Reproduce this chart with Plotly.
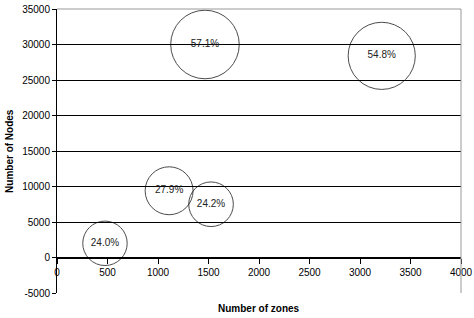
import plotly.graph_objects as go

zones = [475, 1110, 1525, 1465, 3215]
nodes = [2000, 9400, 7500, 30000, 28400]
percent = [24.0, 27.9, 24.2, 57.1, 54.8]
labels = [f"{p:.1f}%" for p in percent]

x_ticks = [0, 500, 1000, 1500, 2000, 2500, 3000, 3500, 4000]
y_ticks = [-5000, 0, 5000, 10000, 15000, 20000, 25000, 30000, 35000]

FONT = "Liberation Sans, Arial, sans-serif"

fig = go.Figure()
fig.add_trace(go.Scatter(
    x=zones, y=nodes, mode="markers+text",
    text=labels, textposition="middle center",
    textfont=dict(family=FONT, size=10, color="#222"),
    marker=dict(size=percent, sizemode="area", sizeref=0.0243,
                color="rgba(0,0,0,0)", line=dict(color="black", width=1)),
    cliponaxis=False, showlegend=False, hoverinfo="skip",
))

fig.update_layout(
    width=474, height=318,
    margin=dict(l=57, r=13, t=9, b=25, autoexpand=False),
    paper_bgcolor="white", plot_bgcolor="white",
    font=dict(family=FONT, size=10, color="black"),
    xaxis=dict(range=[0, 4000], tickvals=x_ticks, ticktext=[str(v) for v in x_ticks],
               anchor="free", position=0.125, showline=True, linecolor="black",
               linewidth=1, ticks="outside", ticklen=5, tickcolor="black",
               showgrid=False, zeroline=False, fixedrange=True, automargin=False),
    yaxis=dict(range=[-5000, 35000], tickvals=y_ticks, ticktext=[str(v) for v in y_ticks],
               showline=True, linecolor="black", linewidth=1, ticks="outside",
               ticklen=4, tickcolor="black", showgrid=True, gridcolor="black",
               gridwidth=1, zeroline=False, fixedrange=True, automargin=False),
    shapes=[
        dict(type="line", xref="paper", yref="paper", x0=0, x1=1, y0=1, y1=1,
             line=dict(color="#999", width=1), layer="above"),
        dict(type="line", xref="paper", yref="paper", x0=1, x1=1, y0=0, y1=1,
             line=dict(color="#999", width=1), layer="above"),
    ],
    annotations=[
        dict(text="<b>Number of zones</b>", xref="paper", yref="paper",
             x=0.5, y=-0.056, xanchor="center", yanchor="middle",
             showarrow=False, font=dict(family=FONT, size=10, color="black")),
        dict(text="<b>Number of Nodes</b>", xref="paper", yref="paper",
             x=-0.119, y=0.5, xanchor="center", yanchor="middle", textangle=-90,
             showarrow=False, font=dict(family=FONT, size=10, color="black")),
    ],
)

fig.write_html("out.html", config={"displayModeBar": False},
               post_script="document.body.style.margin='0';")
